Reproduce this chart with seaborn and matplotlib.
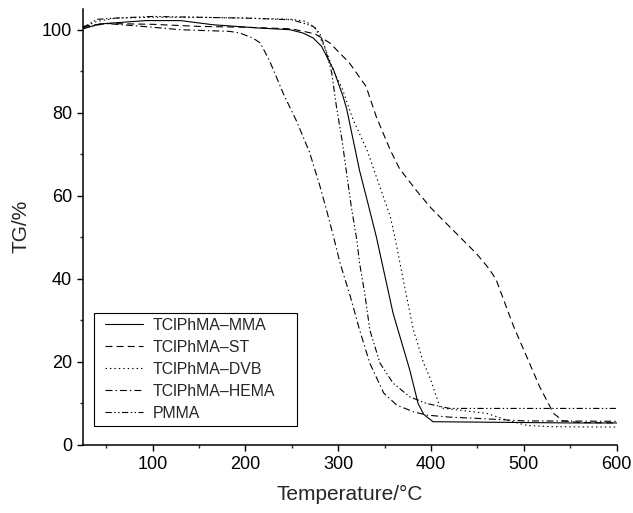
import pandas as pd
import seaborn as sns
import numpy as np
import matplotlib
matplotlib.use("Agg")
import matplotlib.pyplot as plt
from matplotlib.ticker import MultipleLocator
from matplotlib.patches import Rectangle

# TG curves (temperature in degC, residual mass in %)
mma_t = [25, 43, 93, 130, 165, 215, 248, 262, 273, 282, 295, 305, 309, 316, 323, 331, 341, 359, 377, 386, 392, 402, 450, 500, 550, 600]
mma_tg = [100.2, 101.4, 102.2, 102.2, 101.2, 100.4, 100.0, 99.2, 98.0, 96.0, 90.3, 84.0, 81.0, 73.5, 66.0, 59.0, 50.1, 31.7, 18.0, 9.9, 7.3, 5.5, 5.4, 5.3, 5.2, 5.2]

st_t = [25, 50, 100, 150, 200, 250, 275, 291, 312, 330, 341, 356, 366, 385, 400, 420, 449, 462, 470, 478, 489, 503, 517, 532, 542, 560, 600]
st_tg = [100.8, 101.5, 101.3, 100.8, 100.6, 100.2, 99.0, 96.8, 92.0, 86.3, 79.0, 71.0, 66.5, 61.0, 57.0, 52.5, 46.0, 42.5, 39.8, 35.0, 28.4, 21.2, 13.9, 7.5, 5.7, 5.3, 5.2]

dvb_t = [25, 40, 60, 100, 150, 200, 250, 265, 275, 285, 295, 304, 316, 331, 345, 356, 361, 370, 381, 392, 399, 405, 410, 430, 460, 480, 503, 530, 600]
dvb_tg = [100.5, 102.0, 102.8, 103.0, 103.0, 102.8, 102.5, 102.0, 100.5, 96.0, 90.0, 86.0, 78.3, 71.0, 62.0, 55.0, 50.0, 39.7, 27.6, 19.6, 16.0, 12.0, 8.8, 8.3, 7.5, 6.0, 4.6, 4.3, 4.2]

hema_t = [25, 50, 100, 130, 183, 194, 208, 216, 226, 241, 255, 269, 280, 288, 295, 302, 313, 323, 334, 349, 363, 381, 395, 420, 450, 500, 600]
hema_tg = [100.5, 101.5, 100.6, 100.0, 99.6, 99.2, 98.0, 96.8, 92.5, 84.5, 78.0, 70.5, 62.5, 56.0, 50.0, 43.7, 35.7, 27.6, 19.6, 12.4, 9.5, 7.9, 7.1, 6.6, 6.3, 5.7, 5.6]

pmma_t = [25, 40, 60, 100, 150, 200, 250, 262, 273, 280, 286, 293, 298, 304, 309, 314, 320, 323, 329, 334, 345, 359, 377, 395, 420, 500, 600]
pmma_tg = [100.5, 102.5, 102.8, 103.2, 103.0, 102.8, 102.4, 101.6, 100.8, 99.2, 95.5, 89.6, 81.5, 73.5, 65.4, 57.4, 49.3, 43.7, 35.7, 27.6, 19.6, 14.8, 11.5, 9.9, 8.7, 8.7, 8.7]

labels = ["TClPhMA\u2013MMA", "TClPhMA\u2013ST", "TClPhMA\u2013DVB", "TClPhMA\u2013HEMA", "PMMA"]
temps = [mma_t, st_t, dvb_t, hema_t, pmma_t]
masses = [mma_tg, st_tg, dvb_tg, hema_tg, pmma_tg]

frames = []
for lab, t, m in zip(labels, temps, masses):
    frames.append(pd.DataFrame({"Temperature": t, "TG": m, "Sample": lab}))
df = pd.concat(frames, ignore_index=True)

sns.set_style("ticks")
plt.rcParams["font.family"] = ["Liberation Sans", "DejaVu Sans"]
plt.rcParams["lines.scale_dashes"] = False

dashes = {
    labels[0]: "",
    labels[1]: (5, 3),
    labels[2]: (1, 2.2),
    labels[3]: (5, 2.2, 1, 2.2),
    labels[4]: (4.5, 1.8, 1, 1.8, 1, 1.8),
}

fig = plt.figure(figsize=(6.33, 5.13), dpi=100)
ax = fig.add_axes([0.1311, 0.1335, 0.8432, 0.849])
sns.lineplot(data=df, x="Temperature", y="TG", style="Sample", dashes=dashes,
             color="black", linewidth=0.8, sort=False, estimator=None, ax=ax)

ax.set_xlim(25, 600)
ax.set_ylim(0, 105)
ax.xaxis.set_major_locator(MultipleLocator(100))
ax.xaxis.set_minor_locator(MultipleLocator(50))
ax.yaxis.set_major_locator(MultipleLocator(20))
ax.yaxis.set_minor_locator(MultipleLocator(10))
ax.tick_params(which="major", direction="out", length=4.5, width=1, labelsize=13, colors="black")
ax.tick_params(which="minor", direction="out", length=2.5, width=1)
for s in ["left", "bottom"]:
    ax.spines[s].set_linewidth(1.1)
    ax.spines[s].set_color("black")
sns.despine(ax=ax)

ax.set_xlabel("Temperature/\u00b0C", fontsize=15, labelpad=9)
ax.set_ylabel("TG/%", fontsize=15, labelpad=8)

# legend without its own frame; the box is drawn separately to get the wide right margin
leg = ax.legend(loc="upper left", bbox_to_anchor=(0.0412, 0.291), borderaxespad=0,
                fontsize=11.4, frameon=False, handlelength=2.4, handletextpad=0.6,
                labelspacing=0.44, borderpad=0)
leg.set_title(None)
ax.add_patch(Rectangle((0.0206, 0.0425), 0.3804, 0.2595, transform=ax.transAxes,
                       fill=False, edgecolor="black", linewidth=0.8, zorder=5))

fig.savefig("out.png", dpi=100)
